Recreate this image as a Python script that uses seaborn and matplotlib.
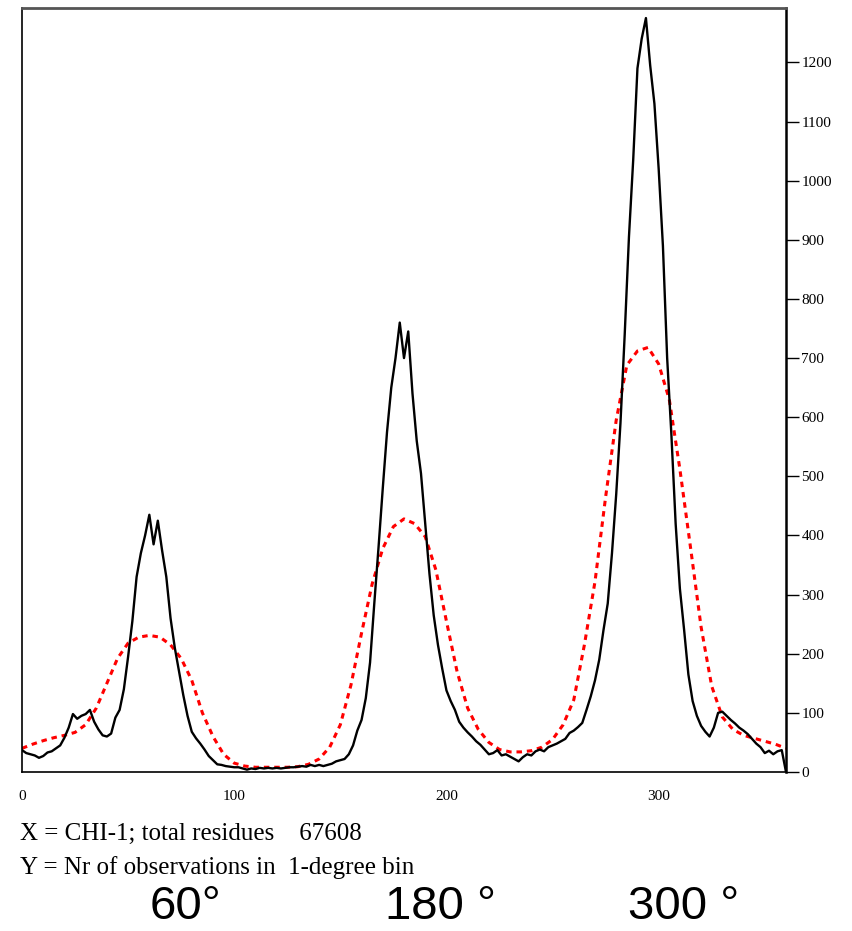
import matplotlib

matplotlib.use("Agg")

import matplotlib.pyplot as plt
import pandas as pd
import seaborn as sns

# observed chi-1 histogram, read every 2 degrees
obs_deg = list(range(0, 362, 2))
obs_count = [
    37, 32, 30, 28, 24, 27, 33, 35, 40, 45,            # 0-18
    58, 75, 98, 90, 95, 98, 105, 85, 72, 62,           # 20-38
    60, 65, 92, 105, 140, 195, 255, 330, 370, 400,     # 40-58
    435, 385, 425, 375, 330, 260, 210, 170, 130, 95,   # 60-78
    68, 57, 48, 38, 27, 20, 13, 12, 10, 9,             # 80-98
    8, 8, 6, 4, 6, 5, 7, 6, 7, 6,                      # 100-118
    7, 6, 7, 8, 8, 9, 10, 9, 12, 10,                   # 120-138
    12, 10, 12, 14, 18, 20, 22, 30, 45, 70,            # 140-158
    88, 125, 185, 285, 380, 480, 575, 650, 700, 760,   # 160-178
    700, 745, 640, 560, 505, 420, 335, 265, 215, 175,  # 180-198
    138, 120, 105, 85, 75, 67, 60, 52, 46, 38,         # 200-218
    30, 32, 37, 28, 30, 26, 22, 18, 25, 30,            # 220-238
    28, 35, 38, 35, 42, 45, 48, 52, 56, 66,            # 240-258
    70, 76, 83, 105, 128, 155, 190, 240, 285, 370,     # 260-278
    470, 590, 740, 905, 1035, 1190, 1240, 1275, 1195, 1130,  # 280-298
    1020, 890, 700, 570, 420, 310, 240, 165, 120, 95,  # 300-318
    78, 68, 60, 75, 100, 102, 95, 88, 82, 75,          # 320-338
    70, 64, 56, 48, 42, 32, 36, 30, 35, 37,            # 340-358
    0,                                                 # 360
]

# smoothed reference curve, read every 5 degrees
fit_deg = list(range(0, 365, 5))
fit_count = [
    40, 47, 53, 58, 62, 67, 80, 108, 150, 192,
    218, 228, 231, 228, 215, 192, 155, 100, 60, 30,
    15, 10, 8, 8, 8, 8, 9, 13, 22, 42,
    80, 147, 235, 318, 378, 415, 428, 420, 398, 342,
    255, 170, 108, 72, 50, 38, 34, 34, 36, 42,
    55, 80, 122, 215, 322, 465, 595, 688, 712, 718,
    690, 630, 512, 380, 245, 145, 93, 72, 62, 57,
    52, 47, 40,
]

x_ticks = [0, 100, 200, 300]
y_ticks = list(range(0, 1300, 100))
peak_labels = ["60°", "180 °", "300 °"]
peak_label_x = [150, 385, 628]

W, H = 852, 931
fig = plt.figure(figsize=(W / 100, H / 100), dpi=100)
sns.set_style("white")
plt.rcParams["font.family"] = ["Liberation Serif", "DejaVu Serif"]

ax = fig.add_axes([22 / W, 1 - 772 / H, (786 - 22) / W, (772 - 8) / H])

obs = pd.DataFrame({"deg": obs_deg, "count": obs_count})
fit = pd.DataFrame({"deg": fit_deg, "count": fit_count})

sns.lineplot(data=fit, x="deg", y="count", ax=ax, color="#ff0000",
             linewidth=2.2, linestyle=(0, (1.8, 1.6)))
sns.lineplot(data=obs, x="deg", y="count", ax=ax, color="black",
             linewidth=1.7)

ax.set_xlim(0, 360)
ax.set_ylim(0, 1292)
ax.set_xticks(x_ticks)
ax.set_yticks(y_ticks)
ax.yaxis.tick_right()
ax.set_xlabel("")
ax.set_ylabel("")
ax.tick_params(axis="x", direction="out", length=10, width=1, labelsize=11,
               pad=3, colors="black")
ax.tick_params(axis="y", direction="out", length=9, width=1, labelsize=11,
               pad=2, colors="black")
for side in ["left", "bottom", "right"]:
    ax.spines[side].set_color("black")
    ax.spines[side].set_linewidth(1.2)
ax.spines["right"].set_linewidth(1.8)
ax.spines["top"].set_color("#555555")
ax.spines["top"].set_linewidth(2)

fig.text(20 / W, 1 - 840 / H, "X = CHI-1; total residues    67608",
         fontsize=18, family="Liberation Serif", color="black")
fig.text(20 / W, 1 - 874 / H, "Y = Nr of observations in  1-degree bin",
         fontsize=18, family="Liberation Serif", color="black")
for lab, px in zip(peak_labels, peak_label_x):
    fig.text(px / W, 2 / H, lab, fontsize=34, family="Liberation Sans",
             va="bottom", color="black")

fig.savefig("out.png", dpi=100)
